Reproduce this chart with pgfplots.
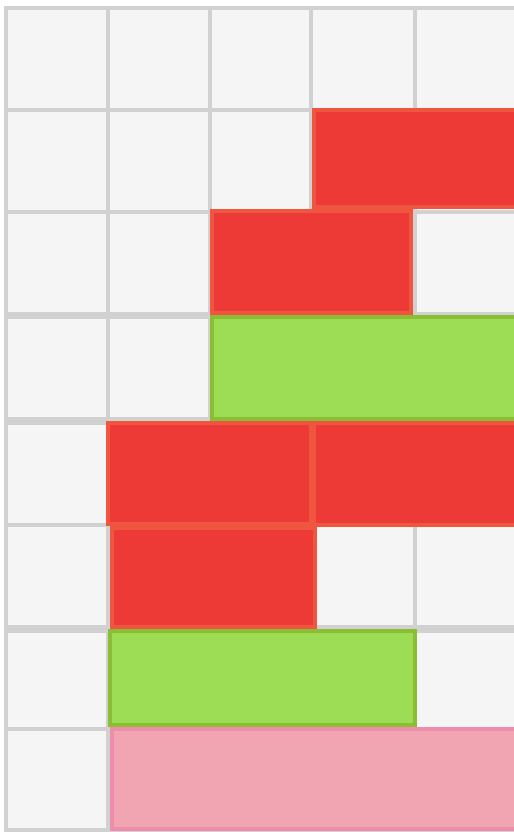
\documentclass[border=0pt]{standalone}
\usepackage{pgfplots}
\pgfplotsset{compat=1.18}
\definecolor{cellbg}{HTML}{F5F5F5}
\definecolor{gridc}{HTML}{D1D1D1}
\definecolor{redf}{HTML}{EE3A36}
\definecolor{redd}{HTML}{F0553F}
\definecolor{greenf}{HTML}{9CDD55}
\definecolor{greend}{HTML}{8BBD35}
\definecolor{pinkf}{HTML}{F1A5B3}
\definecolor{pinkd}{HTML}{EE8DAB}
\begin{document}
\begin{tikzpicture}
\begin{axis}[
  at={(4bp,0)}, anchor=south west,
  scale only axis, width=510bp, height=826bp,
  xmin=4, xmax=514, ymin=6, ymax=832, y dir=reverse,
  axis background/.style={fill=cellbg},
  axis line style={draw=none},
  major tick length=0pt,
  xticklabels={}, yticklabels={},
  xtick={5.7,108,210,311,414.8},
  ytick={7.7,110,211.5,313.5,317,418.5,422.5,525,627,630.5,729,830},
  grid=major,
  grid style={gridc, line width=4bp},
  clip=true,
  tile/.style={line width=4bp, line join=miter},
  redtile/.style={tile, fill=redf, draw=redd},
  greentile/.style={tile, fill=greenf, draw=greend},
  pinktile/.style={tile, fill=pinkf, draw=pinkd},
]
% row 2
\addplot[redtile] coordinates {(313.7,110.3) (540,110.3) (540,207.3) (313.7,207.3)} --cycle;
% row 3
\addplot[redtile] coordinates {(212,211.3) (411.3,211.3) (411.3,313) (212,313)} --cycle;
% row 4
\addplot[greentile] coordinates {(212,317) (540,317) (540,418.7) (212,418.7)} --cycle;
% row 5
\addplot[redtile] coordinates {(108,423) (311,423) (311,523.7) (108,523.7)} --cycle;
\addplot[redtile] coordinates {(313.5,423) (540,423) (540,524.7) (313.5,524.7)} --cycle;
% row 6
\addplot[redtile] coordinates {(112,527.7) (315.3,527.7) (315.3,627.3) (112,627.3)} --cycle;
% row 7
\addplot[greentile] coordinates {(110,631.3) (415.3,631.3) (415.3,725.3) (110,725.3)} --cycle;
% row 8
\addplot[pinktile] coordinates {(112,729.3) (540,729.3) (540,829.3) (112,829.3)} --cycle;
\end{axis}
\pgfresetboundingbox
\path[use as bounding box] (0,0) rectangle (514bp,832bp);
\end{tikzpicture}
\end{document}
